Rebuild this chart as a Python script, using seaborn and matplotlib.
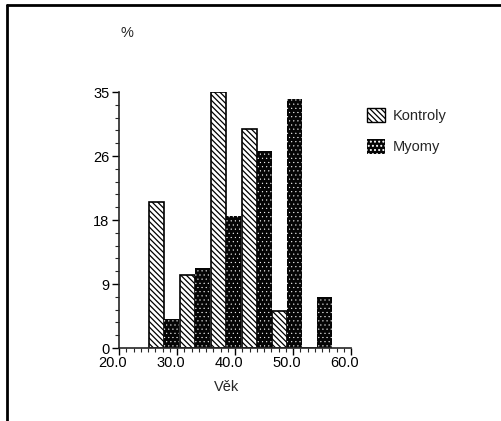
import matplotlib
matplotlib.use("Agg")
import matplotlib.pyplot as plt
import seaborn as sns
import pandas as pd
from matplotlib.patches import Patch
from matplotlib.lines import Line2D
from matplotlib.transforms import ScaledTranslation
from matplotlib.ticker import FixedLocator, MultipleLocator

# ---- data ----
skupiny = ["Kontroly", "Myomy"]
vek_stred = [27.8, 33.1, 38.4, 43.8, 49.0, 54.2]   # age-group centres
kontroly = [20, 10, 35, 30, 5, 0]                  # %
myomy = [4, 11, 18, 27, 34, 7]                     # %
y_ticks = [0, 8.75, 17.5, 26.25, 35]
y_labels = ["0", "9", "18", "26", "35"]
x_ticks = [20, 30, 40, 50, 60]
x_labels = ["20.0", "30.0", "40.0", "50.0", "60.0"]

df = pd.DataFrame({
    "vek": vek_stred + vek_stred,
    "procento": kontroly + myomy,
    "skupina": [skupiny[0]] * len(kontroly) + [skupiny[1]] * len(myomy),
})

sns.set_style("ticks")
plt.rcParams["font.family"] = ["Liberation Sans", "DejaVu Sans"]
plt.rcParams["hatch.linewidth"] = 0.9

W, H = 501, 421
fig = plt.figure(figsize=(W / 100, H / 100), dpi=100)
x0, x1, yb, yt = 119, 351, 348, 92
ax = fig.add_axes([x0 / W, 1 - yb / H, (x1 - x0) / W, (yb - yt) / H])

sns.barplot(data=df, x="vek", y="procento", hue="skupina", hue_order=skupiny,
            native_scale=True, width=1, gap=0, errorbar=None, legend=False,
            palette=["white", "#111111"], saturation=1, ax=ax)

HATCH_K = "\\" * 6
HATCH_M = "...."
M_FACE, M_DOT = "#050505", "white"


def thin_hatch(p, lw):
    if hasattr(p, "set_hatch_linewidth"):
        p.set_hatch_linewidth(lw)


for p in ax.containers[0]:
    p.set_facecolor("white")
    p.set_edgecolor("black")
    p.set_linewidth(1.2)
    p.set_hatch(HATCH_K)
for p in ax.containers[1]:
    p.set_facecolor(M_FACE)
    p.set_edgecolor(M_DOT)
    p.set_linewidth(0)
    p.set_hatch(HATCH_M)
    thin_hatch(p, 0.3)

ax.set_xlim(20, 60)
ax.set_ylim(0, 35)
sns.despine(ax=ax)
for s in ["left", "bottom"]:
    ax.spines[s].set_linewidth(1.2)

ax.yaxis.set_major_locator(FixedLocator(y_ticks))
ax.set_yticklabels(y_labels)
ax.yaxis.set_minor_locator(MultipleLocator(1.75))
ax.xaxis.set_major_locator(FixedLocator(x_ticks))
ax.set_xticklabels(x_labels)
ax.xaxis.set_minor_locator(MultipleLocator(1.25))
ax.tick_params(which="major", direction="out", length=5, width=1, labelsize=10.5, pad=2, colors="black")
ax.tick_params(which="minor", direction="out", length=3, width=0.8)
ax.tick_params(axis="x", pad=1)
for lab in ax.get_xticklabels():
    lab.set_transform(lab.get_transform() + ScaledTranslation(-6 / 100, 0, fig.dpi_scale_trans))

ax.set_ylabel("")
ax.set_xlabel("Věk", fontsize=10.5)
ax.xaxis.label.set_va("center")
ax.xaxis.set_label_coords((227 - x0) / (x1 - x0), (yb - 387) / (yb - yt))

fig.text(127 / W, 1 - 33 / H, "%", ha="center", va="center", fontsize=10.5)

h_m = Patch(facecolor=M_FACE, edgecolor=M_DOT, hatch=HATCH_M, linewidth=0, label=skupiny[1])
thin_hatch(h_m, 0.3)
handles = [
    Patch(facecolor="white", edgecolor="black", hatch=HATCH_K, linewidth=1.0, label=skupiny[0]),
    h_m,
]
fig.legend(handles=handles, loc="upper left", bbox_to_anchor=(367 / W, 1 - 108 / H),
           bbox_transform=fig.transFigure, frameon=False, fontsize=10.5,
           borderpad=0, borderaxespad=0, handlelength=1.25, handleheight=1.15,
           handletextpad=0.55, labelspacing=1.1)

# page frame lines (left and top)
fig.add_artist(Line2D([7 / W, 7 / W], [0, 1 - 5 / H], transform=fig.transFigure, color="black", lw=2))
fig.add_artist(Line2D([7 / W, 1], [1 - 5 / H, 1 - 5 / H], transform=fig.transFigure, color="black", lw=2))

fig.savefig("out.png", dpi=100)
